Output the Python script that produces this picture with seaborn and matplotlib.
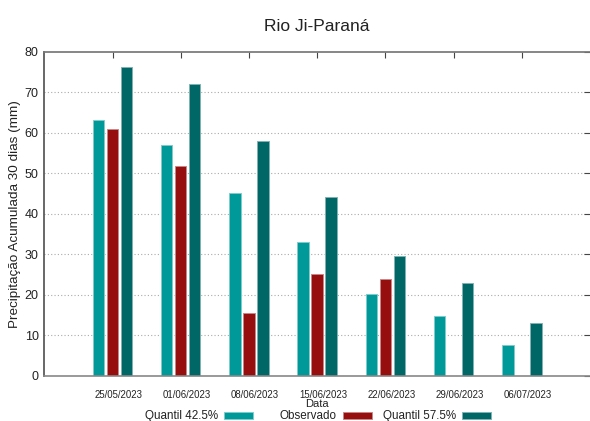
import numpy as np
import pandas as pd
import matplotlib
matplotlib.use("Agg")
import matplotlib.pyplot as plt
import matplotlib.colors as mcolors
from matplotlib.transforms import ScaledTranslation
import seaborn as sns

# ---- data ----
dates = ["25/05/2023", "01/06/2023", "08/06/2023", "15/06/2023",
         "22/06/2023", "29/06/2023", "06/07/2023"]
series_names = ["Quantil 42.5%", "Observado", "Quantil 57.5%"]
q425 = [63.1, 57.0, 45.2, 33.0, 20.2, 14.7, 7.6]
observado = [60.8, 51.8, 15.5, 25.1, 24.0, np.nan, np.nan]
q575 = [76.1, 72.1, 57.9, 44.2, 29.6, 22.8, 13.0]
colors = ["#009999", "#960e0e", "#006666"]

rows = []
for name, vals in zip(series_names, [q425, observado, q575]):
    for d, v in zip(dates, vals):
        rows.append({"Data": d, "Serie": name, "valor": v})
df = pd.DataFrame(rows)

sns.set_theme(style="white")
plt.rcParams["font.family"] = ["Liberation Sans", "DejaVu Sans"]
text_color = "#222222"

fig = plt.figure(figsize=(5.9, 4.21), dpi=100, facecolor="white")
W, H = 590, 421
left, right, top, bottom = 44.3, 590, 51.7, 375.7
ax = fig.add_axes([left / W, 1 - bottom / H, (right - left) / W, (bottom - top) / H])

sns.barplot(data=df, x="Data", y="valor", hue="Serie", order=dates,
            hue_order=series_names, palette=colors, width=0.615, gap=0.18,
            errorbar=None, saturation=1, ax=ax)

handles, labels = ax.get_legend_handles_labels()
if ax.get_legend() is not None:
    ax.get_legend().remove()

for p in ax.patches:
    fc = np.array(mcolors.to_rgb(p.get_facecolor()))
    p.set_edgecolor(tuple(fc * 0.5 + 0.5))
    p.set_linewidth(0.7)

ax.set_xlim(-1, 7)
ax.set_ylim(0, 80)
ax.set_yticks(np.arange(0, 81, 10))
ax.grid(False)
for yv in range(10, 80, 10):
    ax.axhline(yv, color="#aaaaaa", lw=0.8, ls=(0, (1, 2)), zorder=0)

ax.tick_params(axis="both", direction="in", top=True, right=True,
               length=4, width=0.8, color="#444444", labelcolor=text_color)
ax.tick_params(axis="y", labelsize=9, pad=4)
ax.tick_params(axis="x", labelsize=6.9, pad=10.3)
for lab in ax.get_xticklabels():
    lab.set_transform(lab.get_transform() + ScaledTranslation(6 / 100, 0, fig.dpi_scale_trans))

ax.spines["left"].set_color("#555555")
ax.spines["top"].set_color("#777777")
ax.spines["bottom"].set_color("#888888")
ax.spines["bottom"].set_linewidth(1.2)
ax.spines["right"].set_visible(False)

ax.set_xlabel("Data", fontsize=8, color=text_color)
ax.xaxis.set_label_coords(0.5, -0.071)
ax.set_ylabel("Precipitação Acumulada 30 dias (mm)", fontsize=9.7, color=text_color)
ax.yaxis.set_label_coords(-0.042, 0.5)

ax.set_title("Rio Ji-Paraná", fontsize=12.5, color=text_color, pad=15)

swatch_ends = [252.7, 371.7, 491.0]
for h, l, xe in zip(handles, labels, swatch_ends):
    fig.legend([h], [l], loc="center right", bbox_to_anchor=(xe / W, 1 - 416.3 / H),
               frameon=False, markerfirst=False, fontsize=8.4, handlelength=2.5,
               handleheight=0.55, handletextpad=0.5, borderpad=0, borderaxespad=0,
               labelcolor=text_color)

fig.savefig("out.png", dpi=100, facecolor="white")
